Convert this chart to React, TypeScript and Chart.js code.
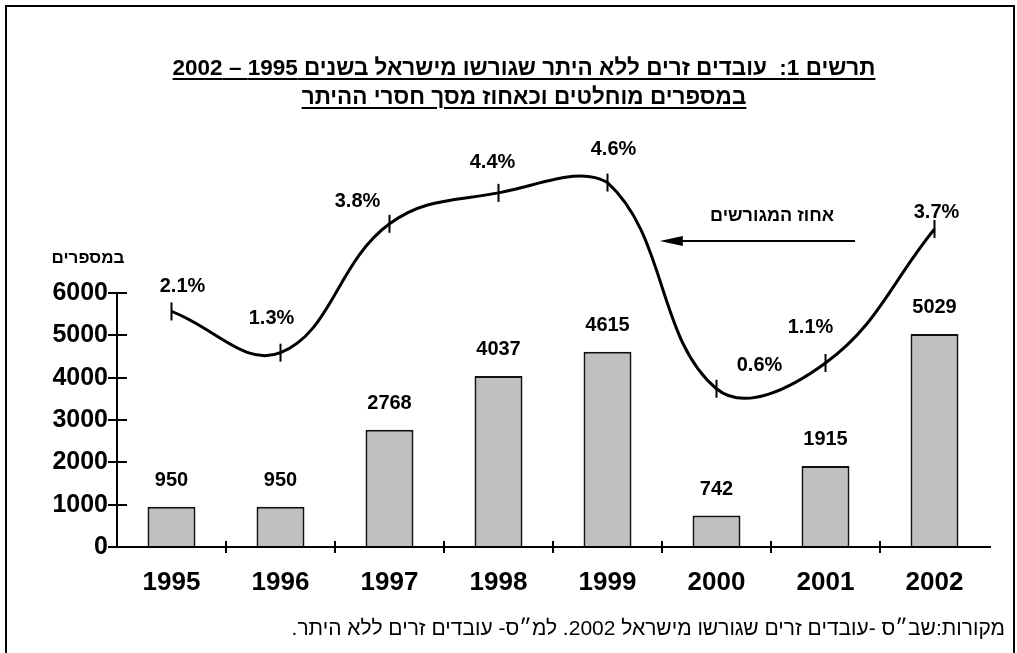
import React, { useEffect, useRef } from "react";
import { Chart, registerables } from "chart.js";

Chart.register(...registerables);

// ---- data ----
const years = ["1995", "1996", "1997", "1998", "1999", "2000", "2001", "2002"];
const deportedCounts = [950, 950, 2768, 4037, 4615, 742, 1915, 5029];
const deportedPercent = [2.1, 1.3, 3.8, 4.4, 4.6, 0.6, 1.1, 3.7];
const countTicks = [0, 1000, 2000, 3000, 4000, 5000, 6000];

// ---- texts ----
const titleLines = [
  "תרשים 1:  עובדים זרים ללא היתר שגורשו מישראל בשנים 1995 – 2002",
  "במספרים מוחלטים וכאחוז מסך חסרי ההיתר",
];
const yAxisTitle = "במספרים";
const lineNote = "אחוז המגורשים";
const sourceNote = "מקורות:שב״ס -עובדים זרים שגורשו מישראל 2002. למ״ס- עובדים זרים ללא היתר.";

// label nudges (style only)
const pctLabelShiftX = [11, -9, -32, -6, 6, 43, -15, 2];
const pctLabelShiftY = [-19, -29, -17, -25, -28, -18, -30, -11];

const FONT = "'Liberation Sans', Arial, sans-serif";

const drawPlugin = {
  id: "customDraw",
  afterDraw(chart: any) {
    const ctx = chart.ctx as CanvasRenderingContext2D;
    const xs = chart.scales.x;
    const ys = chart.scales.y;
    const y2 = chart.scales.y2;
    const area = chart.chartArea;
    const y0 = ys.getPixelForValue(0);
    ctx.save();
    ctx.strokeStyle = "#000";
    ctx.fillStyle = "#000";
    ctx.lineWidth = 2;
    ctx.lineCap = "butt";

    // y axis line 0..6000
    ctx.beginPath();
    ctx.moveTo(area.left, ys.getPixelForValue(countTicks[0]));
    ctx.lineTo(area.left, ys.getPixelForValue(countTicks[countTicks.length - 1]));
    ctx.stroke();
    // y tick marks (crossing)
    countTicks.forEach((v) => {
      const py = Math.round(ys.getPixelForValue(v));
      ctx.beginPath();
      ctx.moveTo(area.left - 9, py);
      ctx.lineTo(area.left + 10, py);
      ctx.stroke();
    });
    // x axis line
    ctx.beginPath();
    ctx.moveTo(area.left, y0);
    ctx.lineTo(area.right + 2, y0);
    ctx.stroke();
    // x tick marks between categories
    for (let i = 1; i < years.length; i++) {
      const bx = Math.round((xs.getPixelForValue(i - 1) + xs.getPixelForValue(i)) / 2);
      ctx.beginPath();
      ctx.moveTo(bx, y0 - 6);
      ctx.lineTo(bx, y0 + 6);
      ctx.stroke();
    }

    // bar value labels
    ctx.font = `bold 20px ${FONT}`;
    ctx.textAlign = "center";
    ctx.textBaseline = "alphabetic";
    const barMeta = chart.getDatasetMeta(0);
    barMeta.data.forEach((el: any, i: number) => {
      ctx.fillText(String(deportedCounts[i]), el.x, el.y - 21);
    });

    // percent labels
    const lineMeta = chart.getDatasetMeta(1);
    lineMeta.data.forEach((el: any, i: number) => {
      ctx.fillText(`${deportedPercent[i]}%`, el.x + pctLabelShiftX[i], el.y + pctLabelShiftY[i]);
    });

    // y axis title
    ctx.direction = "rtl";
    ctx.font = `bold 17px ${FONT}`;
    ctx.textAlign = "center";
    ctx.textBaseline = "middle";
    ctx.fillText(yAxisTitle, area.left - 29, ys.getPixelForValue(6830));

    // line annotation text + arrow
    ctx.font = `bold 18px ${FONT}`;
    ctx.fillText(lineNote, xs.getPixelForValue(5.51), y2.getPixelForValue(3.95));
    const ay = Math.round(y2.getPixelForValue(3.47));
    const ax0 = xs.getPixelForValue(6.27);
    const ax1 = xs.getPixelForValue(4.48);
    ctx.beginPath();
    ctx.moveTo(ax0, ay);
    ctx.lineTo(ax1 + 20, ay);
    ctx.stroke();
    ctx.beginPath();
    ctx.moveTo(ax1, ay);
    ctx.lineTo(ax1 + 23, ay - 5);
    ctx.lineTo(ax1 + 23, ay + 5);
    ctx.closePath();
    ctx.fill();

    ctx.restore();
  },
};

export default function App() {
  const canvasRef = useRef<HTMLCanvasElement | null>(null);

  useEffect(() => {
    if (!canvasRef.current) return;
    const chart = new Chart(canvasRef.current, {
      type: "bar",
      data: {
        labels: years,
        datasets: [
          {
            type: "bar",
            label: "counts",
            data: deportedCounts,
            yAxisID: "y",
            backgroundColor: "#c0c0c0",
            borderColor: "#111",
            borderWidth: 2,
            barPercentage: 0.44,
            categoryPercentage: 1,
            order: 1,
          },
          {
            type: "line",
            label: "percent",
            data: deportedPercent,
            yAxisID: "y2",
            borderColor: "#000",
            borderWidth: 3,
            tension: 0.4,
            fill: false,
            pointStyle: "line",
            pointRotation: 90,
            pointRadius: 9,
            pointBorderWidth: 2,
            pointBorderColor: "#000",
            pointBackgroundColor: "#000",
            clip: false,
            order: 0,
          } as any,
        ],
      },
      options: {
        responsive: false,
        animation: false,
        events: [],
        layout: { padding: { top: 166, right: 28, left: 0, bottom: 0 } },
        plugins: {
          legend: { display: false },
          title: { display: false },
          tooltip: { enabled: false },
        },
        scales: {
          x: {
            type: "category",
            offset: true,
            grid: { display: false, drawTicks: false },
            border: { display: false },
            ticks: {
              color: "#000",
              font: { family: FONT, size: 26, weight: "bold" },
              padding: 20,
              maxRotation: 0,
              autoSkip: false,
            },
            afterFit(scale: any) {
              scale.height = 106;
            },
          },
          y: {
            type: "linear",
            position: "left",
            min: 0,
            max: 9000,
            grid: { display: false, drawTicks: false },
            border: { display: false },
            ticks: {
              color: "#000",
              font: { family: FONT, size: 25, weight: "bold" },
              padding: 9,
              stepSize: 1000,
              callback: (v: any) => String(v),
            },
            afterBuildTicks(scale: any) {
              scale.ticks = countTicks.map((v) => ({ value: v }));
            },
            afterFit(scale: any) {
              scale.width = 117;
            },
          },
          y2: {
            type: "linear",
            display: false,
            min: -2.469,
            max: 4.921,
          },
        },
      } as any,
      plugins: [drawPlugin],
    });
    return () => chart.destroy();
  }, []);

  return (
    <div
      style={{
        position: "fixed",
        left: 0,
        top: 0,
        width: 1017,
        height: 653,
        overflow: "hidden",
        background: "#fff",
        fontFamily: FONT,
      }}
    >
      <div
        style={{
          position: "absolute",
          left: 5,
          top: 5,
          width: 1010,
          height: 720,
          border: "2px solid #000",
          boxSizing: "border-box",
        }}
      />
      <canvas
        ref={canvasRef}
        width={1017}
        height={653}
        style={{ position: "absolute", left: 0, top: 0, width: 1017, height: 653 }}
      />
      <div
        dir="rtl"
        style={{
          position: "absolute",
          left: 24,
          top: 53,
          width: 1000,
          textAlign: "center",
          fontWeight: "bold",
          fontSize: 22.5,
          lineHeight: "29px",
          color: "#000",
        }}
      >
        {titleLines.map((t, i) => (
          <div key={i}>
            <span
              style={{
                textDecoration: "underline",
                textDecorationThickness: "2px",
                textUnderlineOffset: "3px",
                whiteSpace: "pre",
              }}
            >
              {t}
            </span>
          </div>
        ))}
      </div>
      <div
        dir="rtl"
        style={{
          position: "absolute",
          right: 12,
          top: 616,
          width: 900,
          textAlign: "right",
          fontSize: 21,
          lineHeight: "24px",
          color: "#000",
        }}
      >
        {sourceNote}
      </div>
    </div>
  );
}
